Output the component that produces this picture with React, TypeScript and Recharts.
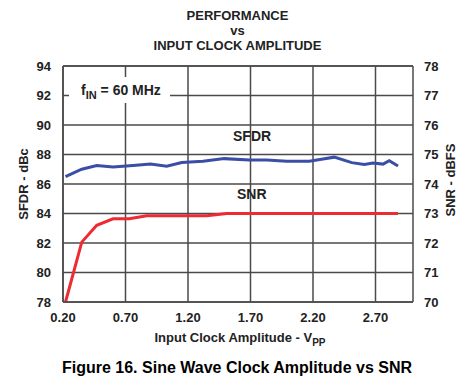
import { LineChart, Line, XAxis, YAxis, CartesianGrid, ReferenceLine } from "recharts";

// SFDR (dBc, left axis) vs input clock amplitude (Vpp)
const sfdrVpp = [0.22, 0.35, 0.47, 0.6, 0.76, 0.9, 1.03, 1.15, 1.32, 1.49, 1.69, 1.83, 1.99, 2.17, 2.28, 2.37, 2.51, 2.61, 2.68, 2.76, 2.81, 2.88];
const sfdrDbc = [86.5, 87.0, 87.25, 87.15, 87.25, 87.35, 87.2, 87.45, 87.55, 87.72, 87.62, 87.62, 87.55, 87.55, 87.7, 87.82, 87.45, 87.33, 87.43, 87.35, 87.58, 87.22];

// SNR (dBFS, right axis)
const snrVpp = [0.22, 0.35, 0.47, 0.6, 0.73, 0.87, 1.0, 1.2, 1.35, 1.51, 1.8, 2.2, 2.6, 2.88];
const snrDbfs = [70.0, 72.03, 72.6, 72.82, 72.82, 72.92, 72.92, 72.92, 72.92, 73.0, 73.0, 73.0, 73.0, 73.0];

const xTicks = [0.2, 0.7, 1.2, 1.7, 2.2, 2.7];
const leftTicks = [78, 80, 82, 84, 86, 88, 90, 92, 94];
const rightTicks = [70, 71, 72, 73, 74, 75, 76, 77, 78];

const sfdrData = sfdrVpp.map((v, i) => ({ vpp: v, sfdr: sfdrDbc[i] }));
const snrData = snrVpp.map((v, i) => ({ vpp: v, snr: snrDbfs[i] }));

const FONT = "'Liberation Sans', Arial, sans-serif";
const GRID = "#4a4a4a";
const tickStyle = { fontSize: 13, fontWeight: 700, fill: "#222", fontFamily: FONT };

export default function App() {
  return (
    <div style={{ position: "absolute", left: 0, top: 0, width: 469, height: 389, background: "#fff", fontFamily: FONT, color: "#222" }}>
      <LineChart width={469} height={389} margin={{ top: 66, right: 0, bottom: 57, left: 0 }}>
        <CartesianGrid stroke={GRID} strokeWidth={1.5} horizontalValues={leftTicks} verticalValues={xTicks} yAxisId="left" />
        <XAxis
          dataKey="vpp"
          type="number"
          height={30}
          domain={[0.2, 3.0]}
          ticks={xTicks}
          allowDataOverflow
          tickFormatter={(v: number) => v.toFixed(2)}
          tick={tickStyle}
          tickLine={false}
          tickMargin={5}
          axisLine={{ stroke: GRID, strokeWidth: 1.5 }}
        />
        <YAxis
          yAxisId="left"
          width={63}
          domain={[78, 94]}
          ticks={leftTicks}
          tick={tickStyle}
          tickLine={false}
          tickMargin={6}
          axisLine={{ stroke: GRID, strokeWidth: 1.5 }}
        />
        <YAxis
          yAxisId="right"
          orientation="right"
          width={56}
          domain={[70, 78]}
          ticks={rightTicks}
          tick={tickStyle}
          tickLine={false}
          tickMargin={5}
          axisLine={{ stroke: GRID, strokeWidth: 1.5 }}
        />
        <ReferenceLine yAxisId="left" y={94} stroke={GRID} strokeWidth={1.5} />
        <Line
          yAxisId="left"
          data={sfdrData}
          dataKey="sfdr"
          type="linear"
          stroke="#3b4ea6"
          strokeWidth={3}
          dot={false}
          isAnimationActive={false}
        />
        <Line
          yAxisId="right"
          data={snrData}
          dataKey="snr"
          type="linear"
          stroke="#ee2a33"
          strokeWidth={3}
          dot={false}
          isAnimationActive={false}
        />
      </LineChart>

      {/* annotation box */}
      <div style={{ position: "absolute", left: 69, top: 77, width: 101, height: 26, background: "#fff", fontSize: 14, fontWeight: 700, lineHeight: "26px", paddingLeft: 12, boxSizing: "border-box" }}>
        f<sub style={{ fontSize: 11 }}>IN</sub> = 60 MHz
      </div>

      {/* series labels */}
      <div style={{ position: "absolute", left: 233, top: 128, fontSize: 14, fontWeight: 700 }}>SFDR</div>
      <div style={{ position: "absolute", left: 237, top: 186, fontSize: 14, fontWeight: 700 }}>SNR</div>

      {/* title */}
      <div style={{ position: "absolute", left: 0, width: 475, top: 8, textAlign: "center", fontSize: 13, fontWeight: 700, lineHeight: "15px" }}>
        PERFORMANCE
        <br />
        vs
        <br />
        INPUT CLOCK AMPLITUDE
      </div>

      {/* axis titles */}
      <div style={{ position: "absolute", left: 23, top: 184, transform: "translate(-50%, -50%) rotate(-90deg)", whiteSpace: "nowrap", fontSize: 13, fontWeight: 700 }}>
        SFDR - dBc
      </div>
      <div style={{ position: "absolute", left: 450, top: 180, transform: "translate(-50%, -50%) rotate(-90deg)", whiteSpace: "nowrap", fontSize: 13, fontWeight: 700 }}>
        SNR - dBFS
      </div>
      <div style={{ position: "absolute", left: 0, width: 480, top: 330, textAlign: "center", fontSize: 13, fontWeight: 700 }}>
        Input Clock Amplitude - V<sub style={{ fontSize: 10 }}>PP</sub>
      </div>

      {/* caption */}
      <div style={{ position: "absolute", left: 0, width: 474, top: 359, textAlign: "center", fontSize: 16, fontWeight: 700, color: "#000" }}>
        Figure 16. Sine Wave Clock Amplitude vs SNR
      </div>
    </div>
  );
}
